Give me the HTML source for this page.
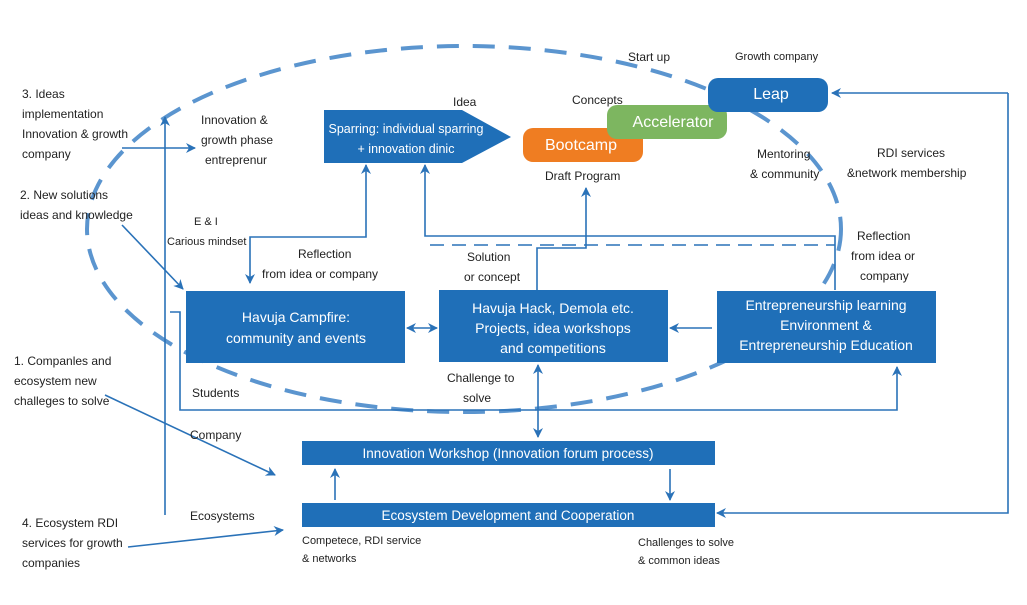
<!DOCTYPE html>
<html><head><meta charset="utf-8"><style>
html,body{margin:0;padding:0;background:#fff;}
svg{display:block;}
text{font-family:"Liberation Sans Narrow","Liberation Sans",sans-serif;fill:#222;font-size:12px;}
.w{fill:#fff;font-family:"Liberation Sans",sans-serif;font-size:14px;}
</style></head><body>
<svg width="1027" height="605" viewBox="0 0 1027 605" xmlns="http://www.w3.org/2000/svg">
<defs>
<marker id="a" markerWidth="10" markerHeight="10" refX="9" refY="5" orient="auto" markerUnits="userSpaceOnUse">
<path d="M0,0 L10,5 L0,10 L3,5 z" fill="#2a72b8"/></marker>
<marker id="s" markerWidth="10" markerHeight="10" refX="1" refY="5" orient="auto" markerUnits="userSpaceOnUse">
<path d="M10,0 L0,5 L10,10 L7,5 z" fill="#2a72b8"/></marker>
</defs>
<ellipse cx="464" cy="229" rx="377" ry="183" fill="none" stroke="#5b95cf" stroke-width="4" stroke-dasharray="22,14"/>
<g stroke="#2a72b8" stroke-width="1.6" fill="none">
<path d="M165,515 V117" marker-end="url(#a)"/>
<path d="M122,148 H195" marker-end="url(#a)"/>
<path d="M122,225 L183,289" marker-end="url(#a)"/>
<path d="M250,283 V237 H366 V165" marker-start="url(#s)" marker-end="url(#a)"/>
<path d="M835,290 V236 H425 V165" marker-end="url(#a)"/>
<path d="M430,245 H835" stroke-dasharray="14,8"/>
<path d="M537,290 V248 H586 V188" marker-end="url(#a)"/>
<path d="M170,312 H180 V410 H897 V367" marker-end="url(#a)"/>
<path d="M407,328 H437" marker-start="url(#s)" marker-end="url(#a)"/>
<path d="M712,328 H670" marker-end="url(#a)"/>
<path d="M538,365 V437" marker-start="url(#s)" marker-end="url(#a)"/>
<path d="M105,395 L275,475" marker-end="url(#a)"/>
<path d="M128,547 L283,530" marker-end="url(#a)"/>
<path d="M335,500 V469" marker-end="url(#a)"/>
<path d="M670,469 V500" marker-end="url(#a)"/>
<path d="M1008,93 V513 H717" marker-end="url(#a)"/>
<path d="M1008,93 H832" marker-end="url(#a)"/>
</g>
<path d="M324,110 H462 L511,137 L462,163 H324 Z" fill="#1f6fb8"/>
<text class="w" x="406" y="133" text-anchor="middle" style="font-size:12.5px">Sparring:  individual sparring</text>
<text class="w" x="406" y="153" text-anchor="middle" style="font-size:12.5px">+ innovation dinic</text>
<rect x="523" y="128" width="120" height="34" rx="10" fill="#ef7d22"/>
<text class="w" x="581" y="150" text-anchor="middle" style="font-size:16px">Bootcamp</text>
<rect x="607" y="105" width="120" height="34" rx="10" fill="#7db660"/>
<text class="w" x="673" y="127" text-anchor="middle" style="font-size:16px">Accelerator</text>
<rect x="708" y="78" width="120" height="34" rx="10" fill="#1f6fb8"/>
<text class="w" x="771" y="99" text-anchor="middle" style="font-size:16px">Leap</text>
<rect x="186" y="291" width="219" height="72" fill="#1f6fb8"/>
<text class="w" x="296" y="322" text-anchor="middle">Havuja Campfire:</text>
<text class="w" x="296" y="343" text-anchor="middle">community and events</text>
<rect x="439" y="290" width="229" height="72" fill="#1f6fb8"/>
<text class="w" x="553" y="313" text-anchor="middle">Havuja Hack, Demola etc.</text>
<text class="w" x="553" y="333" text-anchor="middle">Projects, idea workshops</text>
<text class="w" x="553" y="353" text-anchor="middle">and competitions</text>
<rect x="717" y="291" width="219" height="72" fill="#1f6fb8"/>
<text class="w" x="826" y="310" text-anchor="middle">Entrepreneurship learning</text>
<text class="w" x="826" y="330" text-anchor="middle">Environment &amp;</text>
<text class="w" x="826" y="350" text-anchor="middle">Entrepreneurship Education</text>
<rect x="302" y="441" width="413" height="24" fill="#1f6fb8"/>
<text class="w" x="508" y="458" text-anchor="middle" style="font-size:13.5px">Innovation Workshop (Innovation forum process)</text>
<rect x="302" y="503" width="413" height="24" fill="#1f6fb8"/>
<text class="w" x="508" y="520" text-anchor="middle" style="font-size:13.5px">Ecosystem Development and Cooperation</text>
<text x="22" y="98">3. Ideas</text>
<text x="22" y="118">implementation</text>
<text x="22" y="138">Innovation &amp; growth</text>
<text x="22" y="158">company</text>
<text x="20" y="199">2. New solutions</text>
<text x="20" y="219">ideas and knowledge</text>
<text x="201" y="124">Innovation &amp;</text>
<text x="201" y="144">growth phase</text>
<text x="205" y="164">entreprenur</text>
<text x="453" y="106">Idea</text>
<text x="628" y="61">Start up</text>
<text x="735" y="60" style="font-size:11px">Growth company</text>
<text x="572" y="104">Concepts</text>
<text x="545" y="180">Draft Program</text>
<text x="757" y="158">Mentoring</text>
<text x="750" y="178">&amp; community</text>
<text x="877" y="157">RDI services</text>
<text x="847" y="177">&amp;network membership</text>
<text x="194" y="225" style="font-size:11px">E &amp; I</text>
<text x="167" y="245" style="font-size:11px">Carious mindset</text>
<text x="298" y="258">Reflection</text>
<text x="262" y="278">from idea or company</text>
<text x="467" y="261">Solution</text>
<text x="464" y="281">or concept</text>
<text x="857" y="240">Reflection</text>
<text x="851" y="260">from idea or</text>
<text x="860" y="280">company</text>
<text x="14" y="365">1. Companles and</text>
<text x="14" y="385">ecosystem new</text>
<text x="14" y="405">challeges to solve</text>
<text x="192" y="397">Students</text>
<text x="447" y="382">Challenge to</text>
<text x="463" y="402">solve</text>
<text x="190" y="439">Company</text>
<text x="190" y="520">Ecosystems</text>
<text x="22" y="527">4. Ecosystem RDI</text>
<text x="22" y="547">services for growth</text>
<text x="22" y="567">companies</text>
<text x="302" y="544" style="font-size:11px">Competece, RDI service</text>
<text x="302" y="562" style="font-size:11px">&amp; networks</text>
<text x="638" y="546" style="font-size:11px">Challenges to solve</text>
<text x="638" y="564" style="font-size:11px">&amp; common ideas</text>
</svg>
</body></html>
